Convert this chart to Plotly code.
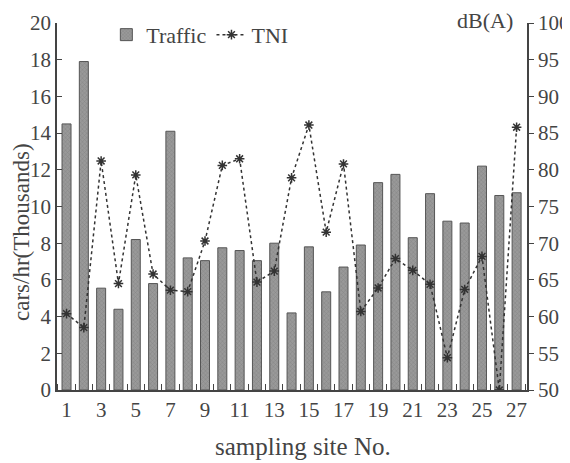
import plotly.graph_objects as go

sites = list(range(1, 28))
traffic = [14.5, 17.9, 5.55, 4.4, 8.2, 5.8, 14.1, 7.2, 7.05, 7.75, 7.6, 7.05, 8.0, 4.2,
           7.8, 5.35, 6.7, 7.9, 11.3, 11.75, 8.3, 10.7, 9.2, 9.1, 12.2, 10.6, 10.75]
tni = [60.4, 58.5, 81.2, 64.5, 79.3, 65.8, 63.6, 63.4, 70.3, 80.6, 81.5, 64.7, 66.2, 78.9,
       86.1, 71.5, 80.8, 60.7, 63.9, 67.9, 66.3, 64.4, 54.4, 63.7, 68.2, 50.0, 85.8]
x_labels = [str(i) for i in range(1, 28, 2)]
left_ticks = list(range(0, 21, 2))
right_ticks = list(range(50, 101, 5))

FONT = "Liberation Serif"
INK = "#444444"

fig = go.Figure()
fig.add_trace(go.Bar(
    x=sites, y=traffic, name="Traffic", width=0.52,
    marker=dict(color="#999999", line=dict(color="#555555", width=1),
                pattern=dict(shape="x", fgcolor="#6e6e6e", size=3, solidity=0.3)),
))
fig.add_trace(go.Scatter(
    x=sites, y=tni, name="TNI", yaxis="y2", mode="lines+markers",
    line=dict(color="#333333", width=1.5, dash="dot"),
    marker=dict(symbol="asterisk-open", size=8, color="#333333", line=dict(color="#333333", width=1.5)),
))

fig.update_layout(
    width=562, height=455,
    margin=dict(l=49, r=43, t=15, b=73, autoexpand=False),
    paper_bgcolor="white", plot_bgcolor="white",
    font=dict(family=FONT, size=21, color=INK),
    showlegend=True,
    legend=dict(orientation="h", x=0.105, y=1.025, xanchor="left", yanchor="top",
                bgcolor="rgba(0,0,0,0)", font=dict(size=22, color=INK),
                itemwidth=30, tracegroupgap=0),
    xaxis=dict(range=[0.45, 27.6], tickmode="array",
               tickvals=list(range(1, 28, 2)), ticktext=x_labels,
               ticks="", showline=True, linecolor=INK, linewidth=1.5,
               showgrid=False, zeroline=False, automargin=False,
               minor=dict(tickmode="array", tickvals=[i + 0.5 for i in range(0, 28)],
                          ticks="inside", ticklen=6, tickcolor=INK, tickwidth=1)),
    yaxis=dict(range=[0, 20], tickmode="array", tickvals=left_ticks,
               ticks="inside", ticklen=5, tickcolor=INK, tickwidth=1.2,
               showline=True, linecolor=INK, linewidth=1.5,
               showgrid=False, zeroline=False, automargin=False),
    yaxis2=dict(range=[50, 100], tickmode="array", tickvals=right_ticks,
                overlaying="y", side="right", anchor="x",
                ticks="outside", ticklen=5, tickcolor=INK, tickwidth=1.2,
                showline=True, linecolor=INK, linewidth=1.5,
                showgrid=False, zeroline=False, automargin=False),
    annotations=[
        dict(text="dB(A)", xref="paper", yref="paper", x=0.974, y=1.008,
             xanchor="right", yanchor="middle", showarrow=False,
             font=dict(size=22, color=INK)),
        dict(text="cars/hr(Thousands)", xref="paper", yref="paper", x=-0.077, y=0.43,
             xanchor="center", yanchor="middle", textangle=-90, showarrow=False,
             font=dict(size=23, color=INK)),
        dict(text="sampling site No.", xref="paper", yref="paper", x=0.523, y=-0.155,
             xanchor="center", yanchor="middle", showarrow=False,
             font=dict(size=25, color=INK)),
    ],
)

fig.write_html("out.html")
